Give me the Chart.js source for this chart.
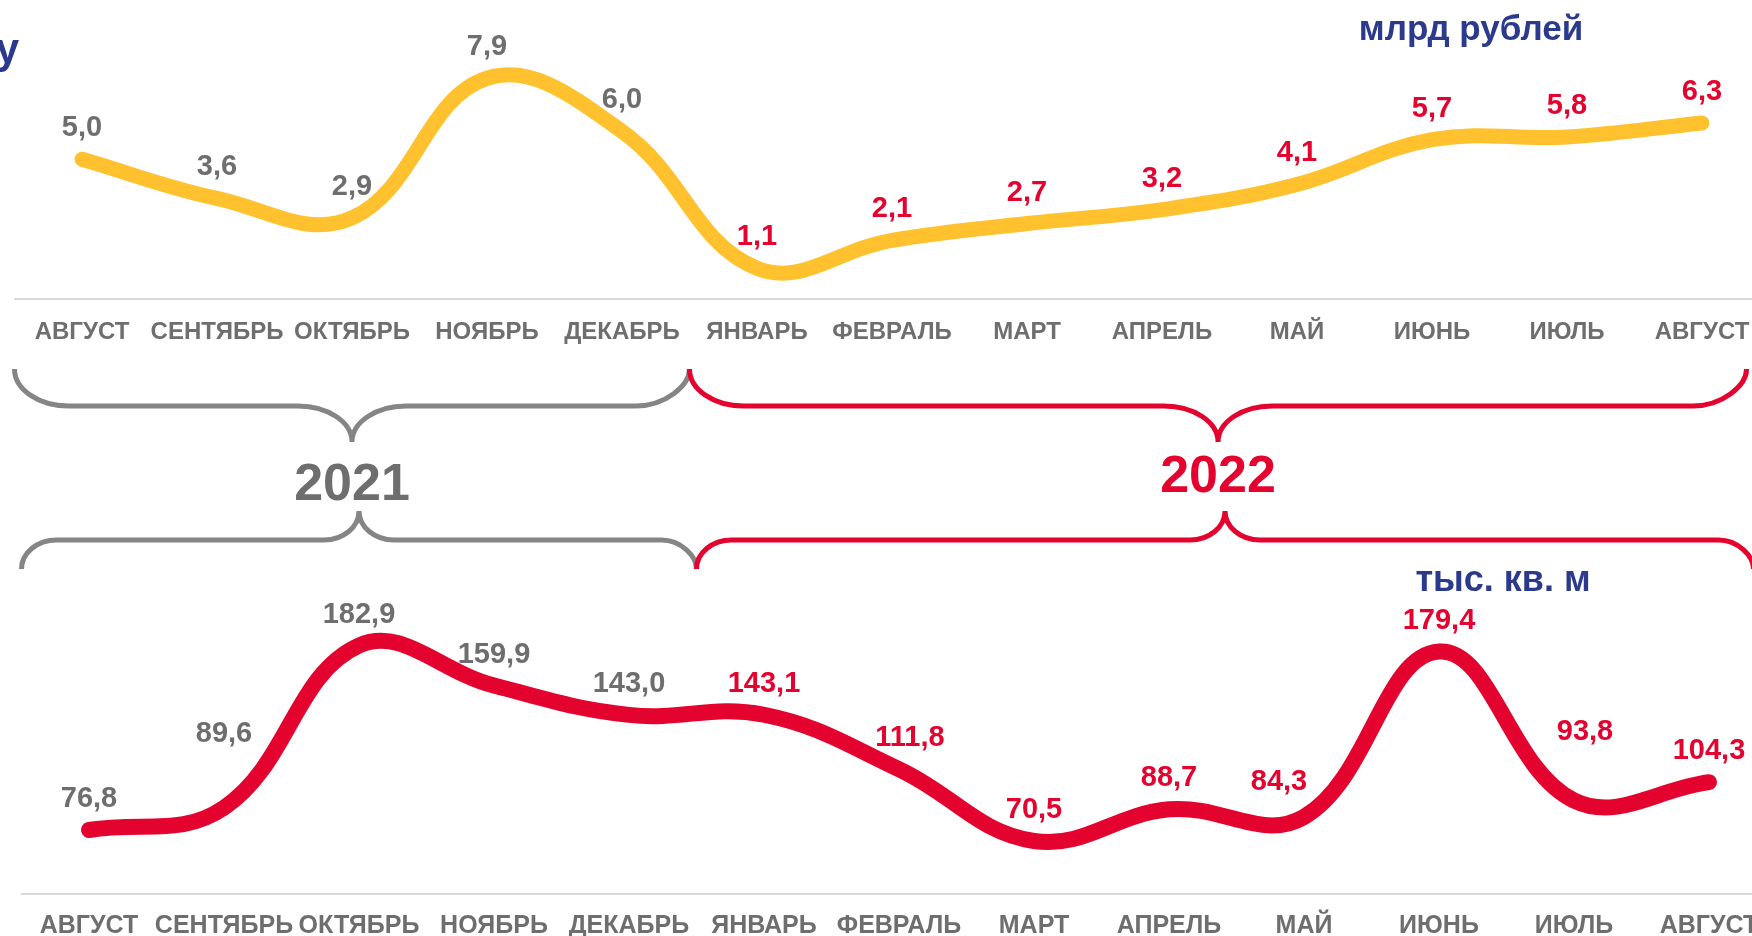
<!DOCTYPE html>
<html lang="ru">
<head>
<meta charset="utf-8">
<title>Ввод и стоимость по месяцам</title>
<script src="https://cdn.jsdelivr.net/npm/chart.js@4.4.1/dist/chart.umd.min.js"></script>
<style>
  html, body { margin: 0; padding: 0; background: #fff; overflow: hidden; width: 1752px; height: 936px; }
  .box { position: absolute; left: 0; width: 1790px; }
  #topBox { top: 0; height: 520px; }
  #bottomBox { top: 480px; height: 456px; }
</style>
</head>
<body>
<div class="box" id="topBox"><canvas id="rublesChart"></canvas></div>
<div class="box" id="bottomBox"><canvas id="metersChart"></canvas></div>
<script>
const months = ['АВГУСТ', 'СЕНТЯБРЬ', 'ОКТЯБРЬ', 'НОЯБРЬ', 'ДЕКАБРЬ', 'ЯНВАРЬ', 'ФЕВРАЛЬ',
                'МАРТ', 'АПРЕЛЬ', 'МАЙ', 'ИЮНЬ', 'ИЮЛЬ', 'АВГУСТ'];
const rubles = [5.0, 3.6, 2.9, 7.9, 6.0, 1.1, 2.1, 2.7, 3.2, 4.1, 5.7, 5.8, 6.3];
const meters = [76.8, 89.6, 182.9, 159.9, 143.0, 143.1, 111.8, 70.5, 88.7, 84.3, 179.4, 93.8, 104.3];
const years = [
    { label: '2021', from: -0.5, to: 4.5 },
    { label: '2022', from: 4.5, to: 12.33 }
];
const firstIndex2022 = 5;

const GRAY = '#6e6e6e';
const RED = '#e4032e';
const NAVY = '#2b3a8c';
const YELLOW = '#ffc22e';
const BRACE_GRAY = '#858585';

Chart.defaults.font.family = '"Liberation Sans", Arial, sans-serif';
Chart.defaults.animation = false;

// label nudges [dx, dy] for the lower chart, where the values would sit on the line
const meterNudge = { 1: [0, -43], 6: [11, 0], 9: [-25, -4], 11: [11, -37] };

function fmt(v) {
    return v.toFixed(1).replace('.', ',');
}

function yearColor(i) {
    return i < firstIndex2022 ? GRAY : RED;
}

function drawBrace(ctx, x1, x2, yEnd, yFlat, yTip, rx, color) {
    const k = 0.5523;
    const xm = (x1 + x2) / 2;
    ctx.save();
    ctx.strokeStyle = color;
    ctx.lineWidth = 5;
    ctx.beginPath();
    ctx.moveTo(x1, yEnd);
    ctx.bezierCurveTo(x1, yEnd + k * (yFlat - yEnd), x1 + rx - k * rx, yFlat, x1 + rx, yFlat);
    ctx.lineTo(xm - rx, yFlat);
    ctx.bezierCurveTo(xm - rx + k * rx, yFlat, xm, yTip - k * (yTip - yFlat), xm, yTip);
    ctx.bezierCurveTo(xm, yTip - k * (yTip - yFlat), xm + rx - k * rx, yFlat, xm + rx, yFlat);
    ctx.lineTo(x2 - rx, yFlat);
    ctx.bezierCurveTo(x2 - rx + k * rx, yFlat, x2, yFlat + k * (yEnd - yFlat), x2, yEnd);
    ctx.stroke();
    ctx.restore();
}

function valueLabels(nudge) {
    return {
        id: 'valueLabels',
        afterDatasetsDraw(chart) {
            const ctx = chart.ctx;
            const meta = chart.getDatasetMeta(0);
            const values = chart.data.datasets[0].data;
            ctx.save();
            ctx.font = 'bold 29px "Liberation Sans", Arial, sans-serif';
            ctx.textAlign = 'center';
            ctx.textBaseline = 'alphabetic';
            meta.data.forEach((pt, i) => {
                const d = nudge[i] || [0, 0];
                ctx.fillStyle = yearColor(i);
                ctx.fillText(fmt(values[i]), pt.x + d[0], pt.y - 23 + d[1]);
            });
            ctx.restore();
        }
    };
}

const topDecor = {
    id: 'topDecor',
    afterDraw(chart) {
        const ctx = chart.ctx;
        const x = chart.scales.x;
        years.forEach((y, i) => {
            const color = i === 0 ? BRACE_GRAY : RED;
            const x1 = x.getPixelForValue(y.from);
            const x2 = x.getPixelForValue(y.to);
            drawBrace(ctx, x1, x2, 369, 406, 442, 54, color);
            ctx.save();
            ctx.font = 'bold 52px "Liberation Sans", Arial, sans-serif';
            ctx.textAlign = 'center';
            ctx.textBaseline = 'alphabetic';
            ctx.fillStyle = i === 0 ? GRAY : RED;
            ctx.fillText(y.label, (x1 + x2) / 2, i === 0 ? 500 : 492);
            ctx.restore();
        });
        ctx.save();
        ctx.fillStyle = NAVY;
        ctx.font = 'bold 35px "Liberation Sans", Arial, sans-serif';
        ctx.textAlign = 'center';
        ctx.fillText('млрд рублей', 1471, 40);
        ctx.font = 'bold 42px "Liberation Sans", Arial, sans-serif';
        ctx.textAlign = 'right';
        ctx.fillText('у', 19, 63);
        ctx.restore();
    }
};

const bottomDecor = {
    id: 'bottomDecor',
    afterDraw(chart) {
        const ctx = chart.ctx;
        const x = chart.scales.x;
        years.forEach((y, i) => {
            const color = i === 0 ? BRACE_GRAY : RED;
            drawBrace(ctx, x.getPixelForValue(y.from), x.getPixelForValue(y.to), 89, 60, 31, 35, color);
        });
        ctx.save();
        ctx.fillStyle = NAVY;
        ctx.font = 'bold 36px "Liberation Sans", Arial, sans-serif';
        ctx.textAlign = 'center';
        ctx.fillText('тыс. кв. м', 1503, 111);
        ctx.restore();
    }
};

function xAxis(axisHeight, pad, size) {
    return {
        offset: true,
        grid: { display: true, color: 'transparent', drawTicks: false },
        border: { display: true, color: '#d9d9d9', width: 2 },
        ticks: {
            color: GRAY,
            padding: pad,
            maxRotation: 0,
            autoSkip: false,
            font: { size: size, weight: 'bold' }
        },
        afterFit(scale) { scale.height = axisHeight; }
    };
}

new Chart(document.getElementById('rublesChart'), {
    type: 'line',
    data: {
        labels: months,
        datasets: [{
            data: rubles,
            borderColor: YELLOW,
            borderWidth: 15,
            borderCapStyle: 'round',
            borderJoinStyle: 'round',
            tension: 0.4,
            pointRadius: 0,
            clip: false
        }]
    },
    options: {
        responsive: true,
        maintainAspectRatio: false,
        layout: { padding: { left: 14.5, right: 20.5, top: 0, bottom: 171 } },
        plugins: { legend: { display: false }, tooltip: { enabled: false } },
        scales: {
            x: xAxis(50, 19, 24),
            y: { display: false, min: 0, max: 10.7 }
        }
    },
    plugins: [valueLabels({}), topDecor]
});

new Chart(document.getElementById('metersChart'), {
    type: 'line',
    data: {
        labels: months,
        datasets: [{
            data: meters,
            borderColor: RED,
            borderWidth: 16,
            borderCapStyle: 'round',
            borderJoinStyle: 'round',
            tension: 0.4,
            pointRadius: 0,
            clip: false
        }]
    },
    options: {
        responsive: true,
        maintainAspectRatio: false,
        layout: { padding: { left: 21.5, right: 13.5, top: 101, bottom: 0 } },
        plugins: { legend: { display: false }, tooltip: { enabled: false } },
        scales: {
            x: xAxis(42, 17, 25),
            y: { display: false, min: 40, max: 220 }
        }
    },
    plugins: [valueLabels(meterNudge), bottomDecor]
});
</script>
</body>
</html>
